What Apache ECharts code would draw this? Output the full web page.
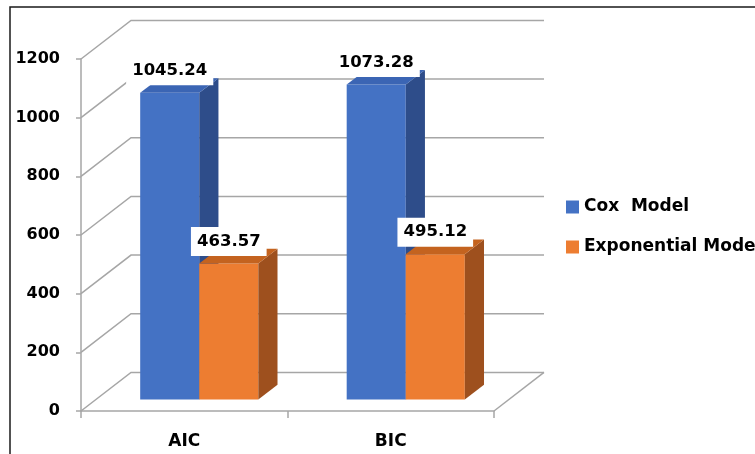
<!DOCTYPE html>
<html>
<head>
<meta charset="utf-8">
<script src="https://cdn.jsdelivr.net/npm/echarts@6/dist/echarts.min.js"></script>
<style>
  html, body { margin: 0; padding: 0; background: #fff; }
  #chart { width: 755px; height: 454px; }
</style>
</head>
<body>
<div id="chart"></div>
<script>
// ---- data ----
const categories = ['AIC', 'BIC'];
const seriesNames = ['Cox  Model', 'Exponential Model'];
const coxValues = [1045.24, 1073.28];
const expValues = [463.57, 495.12];
const yTicks = [0, 200, 400, 600, 800, 1000, 1200];

// ---- look ----
const FONT_FAMILY = '"DejaVu Sans", sans-serif';
const GRID_COLOR = '#a6a6a6';
const DEPTH = [50, -38.6];       // oblique offset from front plane to back wall
const BAR_SHIFT = [15, -11.6];   // bars stand part-way into the floor
const BAR_DEPTH = [19.2, -14.6]; // thickness of each bar
const BAR_FRAC = 0.286;          // bar width as a share of the category band

const palette = {
  cox: { face: '#4472c4', side: '#2e4d8a', top: '#3b65b4' },
  exp: { face: '#ed7d31', side: '#9e501e', top: '#c4631f' }
};

const chart = echarts.init(document.getElementById('chart'), null, { renderer: 'canvas' });

// side wall diagonals + back wall gridlines (and the floor's right edge)
function wallItem(params, api) {
  const v = api.value(1);
  const cs = params.coordSys;
  const y = api.coord([0, v])[1];
  const x0 = cs.x, x1 = cs.x + cs.width;
  const line = { stroke: GRID_COLOR, lineWidth: 1.5, fill: null };
  const children = [{
    type: 'polyline',
    shape: { points: [[x0, y], [x0 + DEPTH[0], y + DEPTH[1]], [x1 + DEPTH[0], y + DEPTH[1]]] },
    style: line
  }];
  if (v === 0) {
    children.push({
      type: 'line',
      shape: { x1: x1, y1: y, x2: x1 + DEPTH[0], y2: y + DEPTH[1] },
      style: line
    });
  }
  return { type: 'group', children: children };
}

// a 3D-looking column: front face, right side, top, value label
function barRenderer(slot, colors) {
  return function (params, api) {
    const cat = api.value(0);
    const val = api.value(1);
    const base = api.coord([cat, 0]);
    const head = api.coord([cat, val]);
    const band = api.size([1, 0])[0];
    const w = band * BAR_FRAC;
    const l = base[0] - w + slot * w + BAR_SHIFT[0];
    const r = l + w;
    const yb = base[1] + BAR_SHIFT[1];
    const yt = head[1] + BAR_SHIFT[1];
    const dx = BAR_DEPTH[0], dy = BAR_DEPTH[1];
    return {
      type: 'group',
      children: [
        { type: 'rect', z2: 1, shape: { x: l, y: yt, width: w, height: yb - yt }, style: { fill: colors.face } },
        { type: 'polygon', z2: 1, shape: { points: [[r, yt], [r + dx, yt + dy], [r + dx, yb + dy], [r, yb]] }, style: { fill: colors.side } },
        { type: 'polygon', z2: 1, shape: { points: [[l, yt], [l + dx, yt + dy], [r + dx, yt + dy], [r, yt]] }, style: { fill: colors.top } },
        {
          type: 'text', z2: 10,
          style: {
            text: val.toFixed(2),
            x: (l + r) / 2, y: yt - 22,
            align: 'center', verticalAlign: 'middle',
            font: 'bold 16.5px ' + FONT_FAMILY,
            fill: '#000',
            backgroundColor: '#fff',
            padding: [6, 6, 6, 6]
          }
        }
      ]
    };
  };
}

const option = {
  backgroundColor: '#fff',
  animation: false,
  textStyle: { fontFamily: FONT_FAMILY },
  grid: { left: 81, top: 59, width: 413, height: 352 },
  xAxis: {
    type: 'category',
    data: categories,
    axisLine: { show: true, lineStyle: { color: GRID_COLOR, width: 1.5 } },
    axisTick: { show: true, length: 7, lineStyle: { color: GRID_COLOR, width: 1.5 } },
    axisLabel: { color: '#000', fontWeight: 'bold', fontSize: 17, margin: 22, fontFamily: FONT_FAMILY },
    splitLine: { show: false }
  },
  yAxis: {
    type: 'value',
    min: 0, max: 1200, interval: 200,
    axisLine: { show: true, lineStyle: { color: GRID_COLOR, width: 1.5 } },
    axisTick: { show: true, length: 5, lineStyle: { color: GRID_COLOR, width: 1.5 } },
    axisLabel: {
      color: '#000', fontWeight: 'bold', fontSize: 16, margin: 21, fontFamily: FONT_FAMILY,
      padding: [6, 0, 0, 0],
      formatter: function (v) { return yTicks.indexOf(v) >= 0 ? String(v) : ''; }
    },
    splitLine: { show: false }
  },
  legend: {
    orient: 'vertical',
    left: 566, top: 197,
    padding: 0,
    itemWidth: 13, itemHeight: 13, itemGap: 20,
    icon: 'rect',
    data: seriesNames,
    textStyle: { color: '#000', fontWeight: 'bold', fontSize: 17, lineHeight: 20, fontFamily: FONT_FAMILY }
  },
  graphic: [{
    type: 'polyline',
    shape: { points: [[10, 454], [10, 7], [755, 7]] },
    style: { stroke: '#1a1a1a', lineWidth: 1.5, fill: null },
    silent: true
  }],
  series: [
    {
      type: 'custom', name: 'wall', z: 1, silent: true,
      renderItem: wallItem,
      data: yTicks.map(function (v) { return [0, v]; })
    },
    {
      type: 'custom', name: seriesNames[0], z: 2,
      itemStyle: { color: palette.cox.face },
      renderItem: barRenderer(0, palette.cox),
      data: coxValues.map(function (v, i) { return [i, v]; })
    },
    {
      type: 'custom', name: seriesNames[1], z: 3,
      itemStyle: { color: palette.exp.face },
      renderItem: barRenderer(1, palette.exp),
      data: expValues.map(function (v, i) { return [i, v]; })
    }
  ]
};

chart.setOption(option);
</script>
</body>
</html>
